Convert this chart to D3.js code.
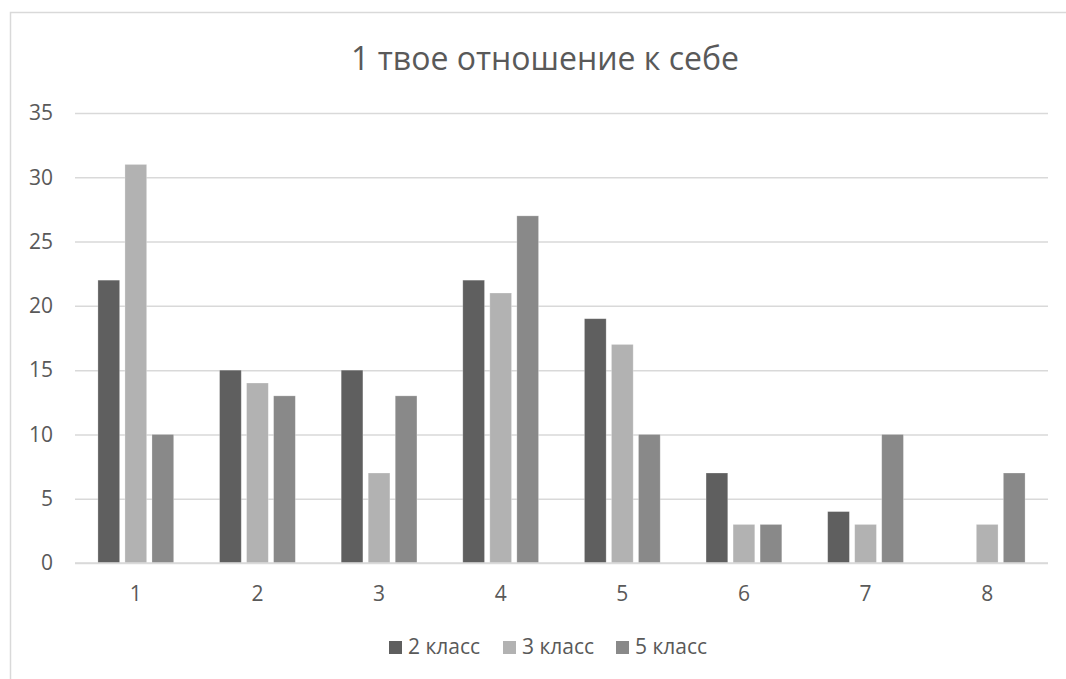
<!DOCTYPE html>
<html><head><meta charset="utf-8">
<script src="https://cdn.jsdelivr.net/npm/d3@7"></script>
<style>body{margin:0;background:#fff;overflow:hidden}svg{display:block}</style>
</head><body>
<svg id="c" width="1066" height="679"></svg>
<script>
const categories = ["1","2","3","4","5","6","7","8"];
const seriesNames = ["2 класс","3 класс","5 класс"];
const s2 = [22,15,15,22,19,7,4,0];
const s3 = [31,14,7,21,17,3,3,3];
const s5 = [10,13,13,27,10,3,10,7];
const yTicks = [0,5,10,15,20,25,30,35];
const colors = ["#5f5f5f","#b2b2b2","#898989"];
const values = [s2,s3,s5];

(function(){
const svg = d3.select("#c");
const font = "'Open Sans', 'Noto Sans', sans-serif";
const txt = "#595959";

svg.append("path").attr("d","M10.5,679 L10.5,12.5 L1066,12.5")
  .attr("fill","none").attr("stroke","#d9d9d9").attr("stroke-width",1.5);

const pL=75, pR=1048, pT=113, pB=563;
const y = d3.scaleLinear().domain([0,35]).range([pB,pT]);
const x0 = d3.scaleBand().domain(categories).range([pL,pR]).paddingInner(0.377).paddingOuter(0.1885);
const x1 = d3.scaleBand().domain(seriesNames).range([0,x0.bandwidth()]).paddingInner(0.196).paddingOuter(0);

const yAxis = d3.axisLeft(y).tickValues(yTicks).tickSize(-(pR-pL)).tickPadding(22);
const gy = svg.append("g").attr("transform",`translate(${pL},0)`).call(yAxis);
gy.select(".domain").remove();
gy.selectAll(".tick line").attr("stroke","#d9d9d9").attr("stroke-width",1.5);
gy.selectAll(".tick text").attr("fill",txt).style("font-family",font).style("font-size","21px");

const rows = categories.map((c,i)=>({c, v: seriesNames.map((s,j)=>({s, j, val: values[j][i]}))}));
svg.append("g").selectAll("g").data(rows).join("g")
  .attr("transform",d=>`translate(${x0(d.c)},0)`)
  .selectAll("rect").data(d=>d.v.filter(e=>e.val>0)).join("rect")
  .attr("x",d=>x1(d.s)).attr("width",x1.bandwidth())
  .attr("y",d=>y(d.val)).attr("height",d=>y(0)-y(d.val))
  .attr("fill",d=>colors[d.j]).attr("stroke","#ffffff").attr("stroke-opacity",0.35).attr("stroke-width",0.75);

svg.append("line").attr("x1",pL).attr("x2",pR).attr("y1",y(0)).attr("y2",y(0))
  .attr("stroke","#d9d9d9").attr("stroke-width",1.5);

const xAxis = d3.axisBottom(x0).tickSize(0).tickPadding(23.5);
const gx = svg.append("g").attr("transform",`translate(0,${pB})`).call(xAxis);
gx.select(".domain").remove();
gx.selectAll(".tick text").attr("fill",txt).style("font-family",font).style("font-size","21px");

svg.append("text").attr("x",545).attr("y",69.5).attr("text-anchor","middle")
  .attr("fill",txt).style("font-family",font).style("font-size","32px")
  .text("1 твое отношение к себе");

const legX = [389, 503, 616];
const lg = svg.append("g").selectAll("g").data(seriesNames).join("g")
  .attr("transform",(d,i)=>`translate(${legX[i]},641)`);
lg.append("rect").attr("width",13).attr("height",13).attr("fill",(d,i)=>colors[i]);
lg.append("text").attr("x",19).attr("y",12.5).attr("fill",txt)
  .style("font-family",font).style("font-size","21px").text(d=>d);
})();
</script>
</body></html>
